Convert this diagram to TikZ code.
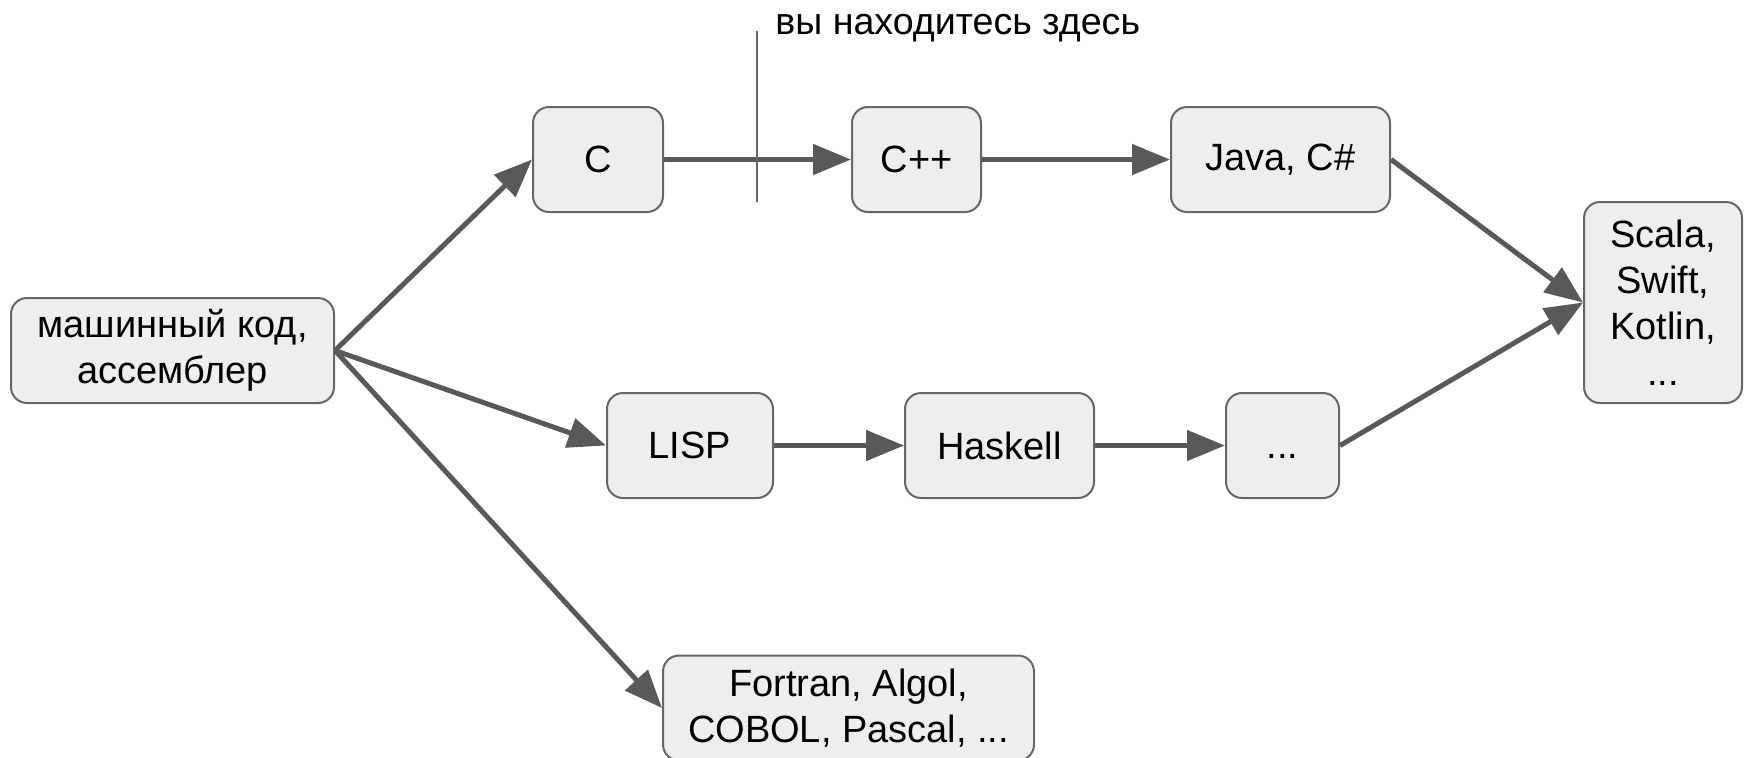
\documentclass[tikz,border=0pt]{standalone}
\usepackage{fontspec}
\setmainfont{Liberation Sans}
\usepackage{tikz}
\usetikzlibrary{arrows.meta,positioning}

\definecolor{boxfill}{HTML}{EEEEEE}
\definecolor{boxline}{HTML}{666666}
\definecolor{arrowgray}{HTML}{595959}

\begin{document}
\begin{tikzpicture}[
    x=0.5pt, y=-0.5pt,
    font=\fontsize{19pt}{23pt}\selectfont,
    lang/.style={draw=boxline, line width=1pt, fill=boxfill, rounded corners=8pt,
      align=center, minimum height=52.5pt, inner sep=2pt},
    flow/.style={draw=arrowgray, line width=2.5pt,
      -{Triangle[length=19pt, width=15pt]}}
  ]
    \useasboundingbox (0,0) rectangle (1744,757);

    \node[lang, minimum width=161.5pt] (mc) at (172.5,350.5) {машинный код,\\ассемблер};
    % imperative branch
    \node[lang, minimum width=65pt] (c) at (598,159.5) {C};
    \node[lang, minimum width=64.5pt, right=93.5pt of c] (cpp) {C++};
    \node[lang, minimum width=109.5pt, right=94pt of cpp] (java) {Java, C\#};
    % functional branch
    \node[lang, minimum width=83pt] (lisp) at (690,445.5) {LISP};
    \node[lang, minimum width=94.5pt, right=65pt of lisp] (hs) {Haskell};
    \node[lang, minimum width=56.5pt, right=65pt of hs] (fdots) {\vphantom{H}...};
    \node[lang, minimum width=79pt, minimum height=100.5pt] (jvm) at (1663,302.5)
      {Scala,\\Swift,\\Kotlin,\\...};
    \node[lang, minimum width=185.5pt] (old) at (848.5,708)
      {Fortran, Algol,\\COBOL, Pascal, ...};

    \draw[flow] (mc.east) -- (c.west);
    \draw[flow] (mc.east) -- (lisp.west);
    \draw[flow] (mc.east) -- (old.west);
    \draw[flow] (c) -- (cpp);
    \draw[flow] (cpp) -- (java);
    \draw[flow] (lisp) -- (hs);
    \draw[flow] (hs) -- (fdots);
    \draw[flow] (java.east) -- (jvm.west);
    \draw[flow] (fdots.east) -- (jvm.west);

    % "you are here" marker
    \coordinate (tick top) at (757,31);
    \coordinate (tick bot) at (757,202);
    \draw[boxline, line width=0.8pt] (tick top) -- (tick bot);
    \node[anchor=base west, inner sep=0pt, font=\fontsize{18.8pt}{23pt}\selectfont]
      (here) at (775,34) {вы находитесь здесь};
  \end{tikzpicture}
\end{document}
